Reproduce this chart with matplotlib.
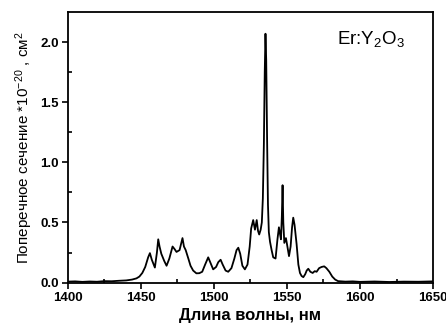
import matplotlib
matplotlib.use("Agg")
import matplotlib.pyplot as plt

plt.rcParams['font.family'] = ['Liberation Sans', 'DejaVu Sans']
plt.rcParams['mathtext.fontset'] = 'custom'
plt.rcParams['mathtext.rm'] = 'Liberation Sans'
plt.rcParams['mathtext.it'] = 'Liberation Sans'
plt.rcParams['mathtext.bf'] = 'Liberation Sans:bold'

# Emission cross-section spectrum of Er:Y2O3
wavelength = [1400, 1405, 1410, 1415, 1420, 1425, 1430, 1435, 1440, 1444, 1447, 1449,
              1451, 1453, 1455, 1456.2, 1457.5, 1459.6, 1461, 1461.9, 1462.8, 1464,
              1466, 1467.6, 1469.5, 1471.7, 1473, 1474.4, 1476.5, 1477.7, 1478.5,
              1479.5, 1480.7, 1482.5, 1484, 1485.8, 1488, 1490, 1492, 1494, 1496.1,
              1497.8, 1499.5, 1501.5, 1503, 1504.6, 1506, 1508, 1509.8, 1512, 1514,
              1515.5, 1516.7, 1518, 1519.5, 1521.2, 1523, 1524.5, 1525.5, 1526.9,
              1528.1, 1529.3, 1530.2, 1531, 1532, 1532.8, 1533.5, 1534.2, 1534.8,
              1535.3, 1535.8, 1536.4, 1537.0, 1537.6, 1538.4, 1539.5, 1540.6, 1542.2,
              1543.5, 1544.5, 1545.3, 1545.9, 1546.5, 1547.0, 1547.5, 1548.2, 1549.3,
              1550.3, 1551.4, 1552.5, 1553.5, 1554.3, 1555.2, 1556.6, 1557.8, 1558.9,
              1560, 1561.2, 1562.5, 1563.5, 1564.6, 1566, 1567.6, 1569, 1570.3, 1572,
              1573.7, 1575.5, 1577, 1579, 1581, 1583, 1585, 1590, 1595, 1600, 1610,
              1620, 1630, 1640, 1650]
cross_section = [0.008, 0.010, 0.006, 0.009, 0.007, 0.012, 0.011, 0.015, 0.018, 0.025,
                 0.035, 0.05, 0.08, 0.13, 0.21, 0.245, 0.19, 0.125, 0.25, 0.36, 0.30,
                 0.24, 0.18, 0.14, 0.20, 0.30, 0.28, 0.255, 0.27, 0.33, 0.37, 0.30,
                 0.27, 0.20, 0.14, 0.10, 0.077, 0.078, 0.09, 0.15, 0.21, 0.16, 0.11,
                 0.13, 0.17, 0.19, 0.15, 0.10, 0.09, 0.12, 0.20, 0.27, 0.29, 0.24,
                 0.14, 0.11, 0.15, 0.30, 0.45, 0.52, 0.44, 0.52, 0.43, 0.40, 0.44,
                 0.50, 0.70, 1.15, 1.75, 2.07, 1.85, 1.20, 0.65, 0.42, 0.34, 0.27,
                 0.21, 0.20, 0.36, 0.46, 0.40, 0.36, 0.55, 0.81, 0.50, 0.33, 0.37,
                 0.30, 0.22, 0.30, 0.46, 0.54, 0.48, 0.32, 0.15, 0.08, 0.055, 0.045,
                 0.07, 0.10, 0.115, 0.09, 0.08, 0.095, 0.09, 0.12, 0.13, 0.135, 0.12,
                 0.09, 0.05, 0.025, 0.012, 0.008, 0.01, 0.006, 0.009, 0.005, 0.008,
                 0.007, 0.01]

fig = plt.figure(figsize=(4.46, 3.27), dpi=100)
ax = fig.add_axes([0.152, 0.134, 0.819, 0.829])

ax.plot(wavelength, cross_section, color='black', lw=1.3)

ax.set_xlim(1400, 1650)
ax.set_ylim(-0.005, 2.25)
ax.set_xticks([1400, 1450, 1500, 1550, 1600, 1650])
ax.set_xticks([1425, 1475, 1525, 1575, 1625], minor=True)
ax.set_yticks([0.0, 0.5, 1.0, 1.5, 2.0])
ax.set_yticks([0.25, 0.75, 1.25, 1.75], minor=True)
ax.tick_params(which='major', direction='out', length=4, width=1.2, labelsize=9.5, pad=2.5)
ax.tick_params(which='minor', direction='in', length=3, width=1.2)
for lbl in ax.get_xticklabels() + ax.get_yticklabels():
    lbl.set_fontweight('bold')
for sp in ax.spines.values():
    sp.set_linewidth(1.3)

ax.set_xlabel("Длина волны, нм", fontsize=12, fontweight='bold', labelpad=3)
ax.set_ylabel("Поперечное сечение *10$^{-20}$ , см$^2$", fontsize=11, labelpad=4)

ax.text(0.83, 0.9, "Er:Y$_2$O$_3$", transform=ax.transAxes, ha='center',
        va='center', fontsize=13.5)

fig.savefig("out.png", dpi=100)
